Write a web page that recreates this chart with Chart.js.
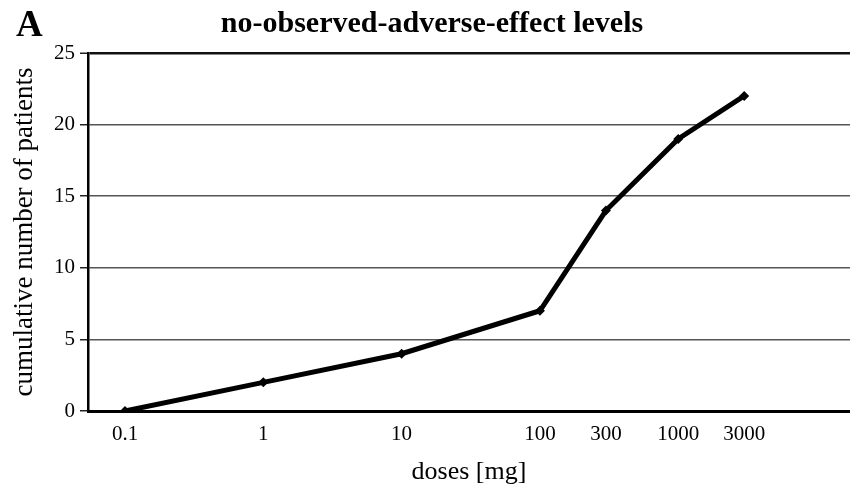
<!DOCTYPE html>
<html>
<head>
<meta charset="utf-8">
<script src="https://cdn.jsdelivr.net/npm/chart.js@4"></script>
<style>
  html, body { margin: 0; padding: 0; background: #fff; }
  #wrap { width: 850px; height: 488px; }
</style>
</head>
<body>
<div id="wrap"><canvas id="chart"></canvas></div>
<script>
// data
const doses = [0.1, 1, 10, 100, 300, 1000, 3000];
const patients = [0, 2, 4, 7, 14, 19, 22];
const doseTicks = [0.1, 1, 10, 100, 300, 1000, 3000];
const yTicks = [0, 5, 10, 15, 20, 25];

const serif = '"Liberation Serif", "DejaVu Serif", serif';

// panel letter + title
const headerPlugin = {
  id: 'header',
  afterDraw(chart) {
    const ctx = chart.ctx;
    ctx.save();
    ctx.fillStyle = '#000';
    ctx.textBaseline = 'alphabetic';
    ctx.font = `bold 37px ${serif}`;
    ctx.textAlign = 'left';
    ctx.fillText('A', 16, 36);
    ctx.font = `bold 30px ${serif}`;
    ctx.textAlign = 'center';
    ctx.fillText('no-observed-adverse-effect levels', 432, 32);
    ctx.restore();
  }
};

new Chart(document.getElementById('chart'), {
  type: 'line',
  data: {
    datasets: [{
      data: doses.map((d, i) => ({ x: d, y: patients[i] })),
      borderColor: '#000',
      backgroundColor: '#000',
      borderWidth: 5,
      tension: 0,
      pointStyle: 'rectRot',
      pointRadius: 5,
      pointBorderWidth: 0
    }]
  },
  options: {
    responsive: true,
    maintainAspectRatio: false,
    animation: false,
    layout: { autoPadding: false, padding: { top: 53, right: 0, left: 0, bottom: 0 } },
    plugins: {
      legend: { display: false },
      tooltip: { enabled: false }
    },
    scales: {
      x: {
        type: 'logarithmic',
        min: 0.054,
        max: 17460,
        afterBuildTicks: s => { s.ticks = doseTicks.map(v => ({ value: v })); },
        afterFit: s => { s.height = 77; s.paddingRight = 0; s.paddingLeft = 0; },
        grid: { display: false, drawTicks: false },
        border: { display: true, color: '#000', width: 3 },
        ticks: {
          color: '#000',
          font: { family: serif, size: 21 },
          padding: 11,
          maxRotation: 0,
          autoSkip: false,
          callback: v => String(v)
        },
        title: {
          display: true,
          text: 'doses [mg]',
          color: '#000',
          font: { family: serif, size: 26 },
          padding: { top: 0, bottom: 0 }
        }
      },
      y: {
        min: 0,
        max: 25,
        afterBuildTicks: s => { s.ticks = yTicks.map(v => ({ value: v })); },
        afterFit: s => { s.width = 88; },
        grid: {
          color: ctx => (ctx.tick && ctx.tick.value === 25 ? '#111' : '#555'),
          lineWidth: ctx => (ctx.tick && ctx.tick.value === 25 ? 2.5 : 1.5),
          tickColor: '#222',
          tickLength: 8,
          tickWidth: 1.5
        },
        border: { display: true, color: '#000', width: 2.5 },
        ticks: {
          color: '#000',
          font: { family: serif, size: 21 },
          padding: 5
        },
        title: {
          display: true,
          text: 'cumulative number of patients',
          color: '#000',
          font: { family: serif, size: 27 },
          padding: { top: 9, bottom: 0 }
        }
      }
    }
  },
  plugins: [headerPlugin]
});
</script>
</body>
</html>
